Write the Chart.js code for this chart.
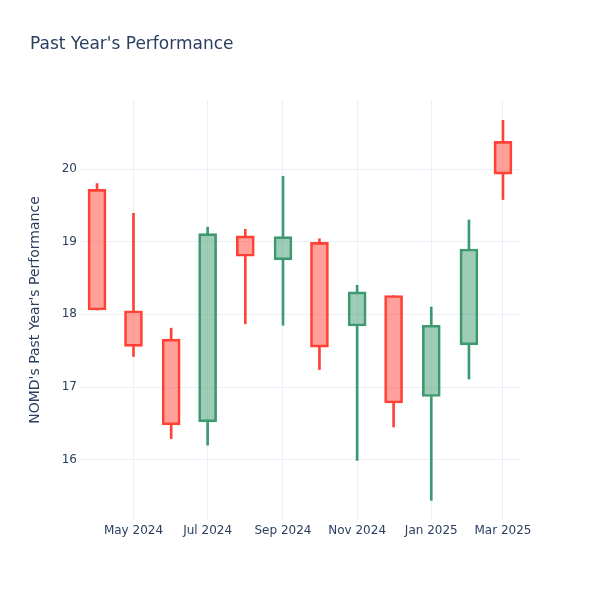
<!DOCTYPE html>
<html>
<head>
<meta charset="utf-8">
<script src="https://cdn.jsdelivr.net/npm/chart.js@4.4.1/dist/chart.umd.min.js"></script>
<style>
  html, body { margin: 0; padding: 0; background: #fff; }
  #wrap { width: 600px; height: 600px; }
</style>
</head>
<body>
<div id="wrap"><canvas id="candles" width="600" height="600"></canvas></div>
<script>
// monthly candles, NOMD
const months = ['2024-04-01', '2024-05-01', '2024-06-01', '2024-07-01', '2024-08-01', '2024-09-01',
                '2024-10-01', '2024-11-01', '2024-12-01', '2025-01-01', '2025-02-01', '2025-03-01'];
const openVals  = [19.72, 18.05, 17.66, 16.52, 19.08, 18.75, 18.99, 17.84, 18.26, 16.87, 17.58, 20.38];
const highVals  = [19.80, 19.39, 17.81, 19.20, 19.17, 19.90, 19.04, 18.40, 18.26, 18.10, 19.30, 20.67];
const lowVals   = [18.06, 17.42, 16.29, 16.20, 17.87, 17.85, 17.24, 15.99, 16.45, 15.44, 17.11, 19.58];
const closeVals = [18.06, 17.56, 16.48, 19.11, 18.80, 19.07, 17.55, 18.31, 16.78, 17.85, 18.90, 19.93];

const xTickDates = ['2024-05-01', '2024-07-01', '2024-09-01', '2024-11-01', '2025-01-01', '2025-03-01'];
const xTickLabels = ['May 2024', 'Jul 2024', 'Sep 2024', 'Nov 2024', 'Jan 2025', 'Mar 2025'];
const yTicks = [16, 17, 18, 19, 20];

const UP = '#3D9970', DOWN = '#FF4136';
const UP_FILL = 'rgba(61,153,112,0.5)', DOWN_FILL = 'rgba(255,65,54,0.5)';
const TEXT = '#2a3f5f', GRID = '#EBF0F8';
const FONT = '"DejaVu Sans", sans-serif';

// dates as day numbers so the x axis is a true time line
const toDay = s => Date.parse(s + 'T00:00:00Z') / 86400000;
const xs = months.map(toDay);
const isUp = i => closeVals[i] >= openVals[i];
const colorOf = i => isUp(i) ? UP : DOWN;

const bodies = xs.map((x, i) => ({ x: x, y: [openVals[i], closeVals[i]] }));
const upperWicks = xs.map((x, i) => ({ x: x, y: [Math.max(openVals[i], closeVals[i]), highVals[i]] }));
const lowerWicks = xs.map((x, i) => ({ x: x, y: [lowVals[i], Math.min(openVals[i], closeVals[i])] }));

const wickStyle = {
    grouped: false,
    barThickness: 2,
    backgroundColor: months.map((m, i) => colorOf(i)),
    borderWidth: 0
};

const titlePlugin = {
    id: 'plotTitle',
    afterDraw(chart) {
        const ctx = chart.ctx;
        ctx.save();
        ctx.font = '17px ' + FONT;
        ctx.fillStyle = TEXT;
        ctx.textBaseline = 'middle';
        ctx.textAlign = 'left';
        ctx.fillText("Past Year's Performance", 30, 45);
        ctx.restore();
    }
};

const ctx = document.getElementById('candles').getContext('2d');
new Chart(ctx, {
    type: 'bar',
    data: {
        datasets: [
            Object.assign({ label: 'upper', data: upperWicks, order: 2 }, wickStyle),
            Object.assign({ label: 'lower', data: lowerWicks, order: 2 }, wickStyle),
            {
                label: 'body',
                data: bodies,
                order: 1,
                grouped: false,
                barThickness: 18,
                backgroundColor: months.map((m, i) => isUp(i) ? UP_FILL : DOWN_FILL),
                borderColor: months.map((m, i) => colorOf(i)),
                borderWidth: 2,
                borderSkipped: false
            }
        ]
    },
    options: {
        responsive: false,
        animation: false,
        layout: { padding: { top: 100, right: 80, left: 0, bottom: 0 } },
        plugins: {
            legend: { display: false },
            tooltip: { enabled: false }
        },
        scales: {
            x: {
                type: 'linear',
                offset: false,
                min: toDay('2024-03-18'),
                max: toDay('2025-03-15'),
                afterBuildTicks: scale => { scale.ticks = xTickDates.map(d => ({ value: toDay(d) })); },
                afterFit: scale => { scale.height = 80; },
                grid: { color: GRID, drawTicks: false, offset: false },
                border: { display: false },
                ticks: {
                    padding: 4,
                    maxRotation: 0,
                    autoSkip: false,
                    color: TEXT,
                    font: { family: FONT, size: 12 },
                    callback: (v, idx) => xTickLabels[idx]
                }
            },
            y: {
                min: 15.17,
                max: 20.95,
                afterBuildTicks: scale => { scale.ticks = yTicks.map(v => ({ value: v })); },
                afterFit: scale => { scale.width = 80; },
                grid: { color: GRID, drawTicks: false },
                border: { display: false },
                ticks: {
                    padding: 3,
                    color: TEXT,
                    font: { family: FONT, size: 12 },
                    callback: v => String(v)
                },
                title: {
                    display: true,
                    text: "NOMD's Past Year's Performance",
                    color: TEXT,
                    font: { family: FONT, size: 14 },
                    padding: { top: 27, bottom: 0 }
                }
            }
        }
    },
    plugins: [titlePlugin]
});
</script>
</body>
</html>
